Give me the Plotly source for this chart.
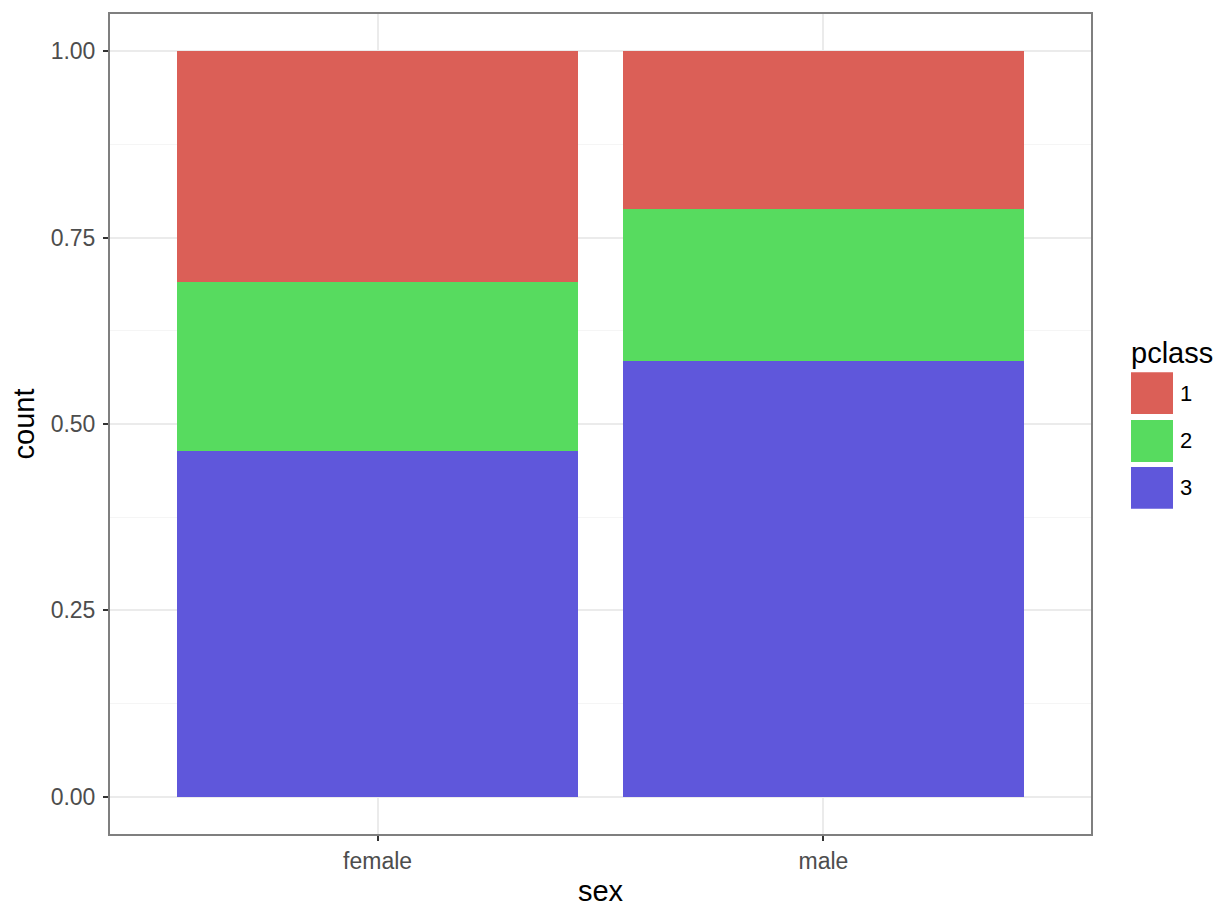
import plotly.graph_objects as go

# ---- data ----
sex = ["female", "male"]
pclass_levels = ["1", "2", "3"]
prop_class1 = [0.309, 0.212]
prop_class2 = [0.227, 0.203]
prop_class3 = [0.464, 0.585]
colors = {"1": "#DB5F57", "2": "#57DB5F", "3": "#5F57DB"}
y_ticks = [0.0, 0.25, 0.5, 0.75, 1.0]

OFF = 8  # page body margin
W, H = 1228 - 2 * OFF, 921 - 2 * OFF
L, T = 110 - OFF, 12 - OFF
R = W - (1091 - OFF)
B = H - (834 - OFF)
pw, ph = W - L - R, H - T - B

fig = go.Figure()
series = {"1": prop_class1, "2": prop_class2, "3": prop_class3}
for lvl in ["3", "2", "1"]:
    fig.add_trace(go.Bar(x=sex, y=series[lvl], name=lvl, width=0.9,
                         marker=dict(color=colors[lvl], line=dict(width=0)),
                         showlegend=False))

FONT = "Liberation Sans, Arial, Helvetica, sans-serif"

fig.update_layout(
    width=W, height=H, barmode="stack",
    margin=dict(l=L, r=R, t=T, b=B, pad=0),
    paper_bgcolor="white", plot_bgcolor="white",
    font=dict(family=FONT, color="#4D4D4D"),
    xaxis=dict(
        type="category", range=[-0.6, 1.6],
        showgrid=True, gridcolor="#EBEBEB", gridwidth=1.6,
        ticks="outside", ticklen=5, tickwidth=1.6, tickcolor="#333333",
        tickfont=dict(size=23, color="#4D4D4D", family=FONT),
        showline=True, linecolor="#7F7F7F", linewidth=2, mirror=True,
        zeroline=False,
        title=dict(text="sex", font=dict(size=29, color="black", family=FONT), standoff=8),
    ),
    yaxis=dict(
        range=[-0.05, 1.05], tickmode="array", tickvals=y_ticks,
        ticktext=[f"{v:.2f}" for v in y_ticks],
        showgrid=True, gridcolor="#EBEBEB", gridwidth=1.6,
        minor=dict(tickvals=[0.125, 0.375, 0.625, 0.875], showgrid=True,
                   gridcolor="#F5F5F5", gridwidth=1, ticks=""),
        ticks="outside", ticklen=5, tickwidth=1.6, tickcolor="#333333",
        tickfont=dict(size=23, color="#4D4D4D", family=FONT),
        ticklabelstandoff=3,
        showline=True, linecolor="#7F7F7F", linewidth=2, mirror=True,
        zeroline=False,
        title=dict(text="count", font=dict(size=29, color="black", family=FONT), standoff=10),
    ),
)

# ---- custom legend (ggplot-style square keys), positions in page pixels ----
def px_x(px):
    return (px - OFF - L) / pw

def px_y(py):
    return (H - B - (py - OFF)) / ph

fig.add_annotation(text="pclass", xref="paper", yref="paper",
                   x=px_x(1129), y=px_y(352), xanchor="left", yanchor="middle",
                   showarrow=False, font=dict(size=29, color="black", family=FONT))
key_tops = [371, 419, 466]
for lvl, top in zip(pclass_levels, key_tops):
    fig.add_shape(type="rect", xref="paper", yref="paper",
                  x0=px_x(1131), x1=px_x(1173), y0=px_y(top + 42), y1=px_y(top),
                  fillcolor=colors[lvl], line=dict(width=0))
    fig.add_annotation(text=lvl, xref="paper", yref="paper",
                       x=px_x(1178), y=px_y(top + 21), xanchor="left", yanchor="middle",
                       showarrow=False, font=dict(size=22, color="black", family=FONT))

fig.write_html("out.html")
